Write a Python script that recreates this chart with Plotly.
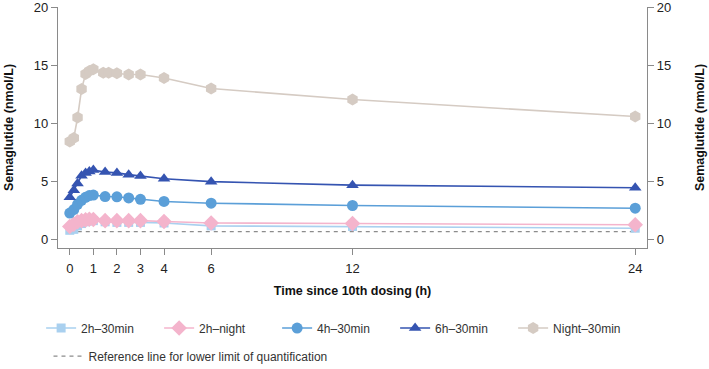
import plotly.graph_objects as go

# ---- data ----
time_h = [0, 0.17, 0.33, 0.5, 0.67, 0.83, 1, 1.5, 2, 2.5, 3, 4, 6, 12, 24]
time_night_h = [0, 0.17, 0.33, 0.5, 0.67, 0.83, 1, 1.42, 1.65, 2, 2.5, 3, 4, 6, 12, 24]

s_2h_30min = [0.82, 0.9, 1.2, 1.4, 1.55, 1.62, 1.65, 1.55, 1.5, 1.5, 1.5, 1.45, 1.2, 1.15, 1.0]
s_2h_night = [1.15, 1.35, 1.55, 1.65, 1.72, 1.77, 1.75, 1.65, 1.65, 1.65, 1.65, 1.57, 1.45, 1.4, 1.3]
s_4h_30min = [2.3, 2.6, 3.05, 3.4, 3.65, 3.8, 3.85, 3.72, 3.7, 3.6, 3.48, 3.3, 3.15, 2.95, 2.72]
s_6h_30min = [3.65, 4.25, 4.85, 5.5, 5.75, 5.88, 6.0, 5.82, 5.75, 5.6, 5.48, 5.25, 5.0, 4.7, 4.48]
s_night_30min = [8.45, 8.75, 10.5, 12.95, 14.25, 14.5, 14.65, 14.35, 14.35, 14.3, 14.2, 14.2,
                 13.9, 13.0, 12.05, 10.6]

lloq_x = [0, 24]
lloq_y = [0.7, 0.7]

x_ticks = [0, 1, 2, 3, 4, 6, 12, 24]
y_ticks = [0, 5, 10, 15, 20]

names = ["2h\u201330min", "2h\u2013night", "4h\u201330min", "6h\u201330min", "Night\u201330min"]
lloq_name = "Reference line for lower limit of quantification"

FONT = "Liberation Sans, Arial, sans-serif"

fig = go.Figure()

fig.add_trace(go.Scatter(
    x=lloq_x, y=lloq_y, mode="lines", name=lloq_name, legend="legend2",
    line=dict(color="#8c8c8c", width=1.3, dash="4px,4px"), hoverinfo="skip"))

series = [
    (time_h, s_2h_30min, names[0], "#a9d0ef", "square", 9),
    (time_h, s_2h_night, names[1], "#f4b4cc", "diamond", 12),
    (time_h, s_4h_30min, names[2], "#5b9fd8", "circle", 11),
    (time_h, s_6h_30min, names[3], "#3554b1", "triangle-up", 11),
    (time_night_h, s_night_30min, names[4], "#d5cbc3", "hexagon", 12),
]
for x, y, nm, col, sym, sz in series:
    fig.add_trace(go.Scatter(
        x=x, y=y, mode="lines+markers", name=nm, legend="legend",
        line=dict(color=col, width=1.6),
        marker=dict(symbol=sym, size=sz, color=col, line=dict(width=0))))

# invisible companion trace so the right-hand axis is drawn
fig.add_trace(go.Scatter(
    x=lloq_x, y=lloq_y, yaxis="y2", mode="lines", opacity=0, showlegend=False,
    hoverinfo="skip", line=dict(width=0)))

axis_common = dict(
    showgrid=False, zeroline=False, showline=True, linecolor="#8a8a8a", linewidth=1.3,
    ticks="outside", ticklen=6, tickwidth=1.2, tickcolor="#8a8a8a",
    tickfont=dict(family=FONT, size=13, color="#222222"),
    ticklabeloverflow="allow",
)

title_font = dict(family=FONT, size=12.5, color="#111111")

fig.update_layout(
    width=709, height=369,
    margin=dict(l=58, r=62, t=7, b=121, autoexpand=False),
    paper_bgcolor="white", plot_bgcolor="white",
    font=dict(family=FONT, color="#222222"),
    xaxis=dict(
        range=[-0.5, 24.5], tickmode="array", tickvals=x_ticks, ticklabelstandoff=2,
        title=dict(text="<b>Time since 10th dosing (h)</b>", font=title_font, standoff=11),
        **axis_common),
    yaxis=dict(
        range=[-0.7, 20], tickmode="array", tickvals=y_ticks,
        title=dict(text="<b>Semaglutide (nmol/L)</b>", font=title_font, standoff=17),
        **axis_common),
    yaxis2=dict(
        range=[-0.7, 20], tickmode="array", tickvals=y_ticks, overlaying="y", side="right",
        title=dict(text="<b>Semaglutide (nmol/L)</b>", font=title_font, standoff=25),
        **axis_common),
    legend=dict(
        orientation="h", xref="container", yref="container",
        x=0.058, xanchor="left", y=0.111, yanchor="middle",
        entrywidth=73, entrywidthmode="pixels",
        font=dict(family=FONT, size=12, color="#333333"), bgcolor="rgba(0,0,0,0)"),
    legend2=dict(
        orientation="h", xref="container", yref="container",
        x=0.0684, xanchor="left", y=0.035, yanchor="middle",
        font=dict(family=FONT, size=12, color="#333333"), bgcolor="rgba(0,0,0,0)"),
    showlegend=True,
)

fig.write_html("out.html", post_script="document.body.style.margin='0';",
               config={"displayModeBar": False})
